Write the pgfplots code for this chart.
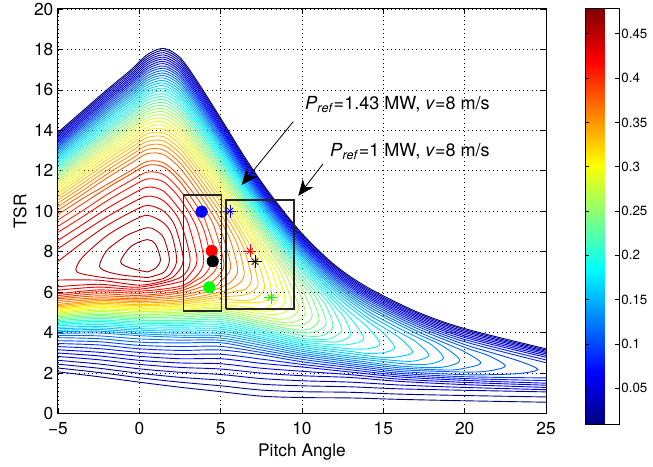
\documentclass[border=0pt]{standalone}
\usepackage{pgfplots}
\pgfplotsset{compat=1.18}
\usepackage{fontspec}
\setmainfont{TeX Gyre Heros}
\usetikzlibrary{arrows.meta}
\pgfplotsset{cline/.style={smooth, line width=0.68pt, no marks}}
\newcommand{\cl}[2]{\addplot[cline, color of colormap={#1 of jet}] coordinates {#2};}
\begin{document}
\begin{tikzpicture}
\begin{axis}[
  name=ax,
  scale only axis, width=366pt, height=303.4pt,
  xmin=-5, xmax=25, ymin=0, ymax=20,
  xtick={-5,0,5,10,15,20,25}, xticklabels={−5,0,5,10,15,20,25},
  ytick={0,2,4,6,8,10,12,14,16,18,20},
  font=\fontsize{13}{15}\selectfont,
  /pgf/number format/assume math mode=true,
  tick align=inside, major tick length=3.7pt,
  grid=major, grid style={black, line width=0.5pt, dash pattern=on 0.6pt off 2.6pt},
  axis line style={line width=0.75pt},
  every tick/.style={black, line width=0.6pt},
  xticklabel style={yshift=-3pt},
  xlabel={Pitch Angle}, ylabel={TSR},
  xlabel style={at={(axis description cs:0.5,-0.0953)}, anchor=center},
  ylabel style={at={(axis description cs:-0.078,0.5)}, anchor=center},
  colormap/jet,
  point meta min=0.0086, point meta max=0.478,
  colorbar,
  colorbar style={
    at={(parent axis.north east)}, anchor=north west, xshift=21pt,
    width=25.5pt, height=312pt,
    ytick={0.05,0.1,0.15,0.2,0.25,0.3,0.35,0.4,0.45},
    yticklabels={0.05,0.1,0.15,0.2,0.25,0.3,0.35,0.4,0.45},
    tick align=inside, major tick length=3pt,
    yticklabel style={xshift=-2pt},
    axis line style={line width=0.75pt},
  },
]
% ---- contour lines ----
% 0.01
\cl{3}{(-5,2.06) (-2.5,1.82) (0,1.55) (2.5,1.30) (5,1.08) (7.5,0.86) (10,0.79) (13,0.77) (16,0.70) (20,0.63) (25,0.56)}
\cl{3}{(-5,13.9) (-3.5,14.95) (-2,16.0) (-0.5,17.0) (0.5,17.75) (1.5,18.05) (2.5,17.6) (3.5,16.5) (5,14.6) (6.5,12.65) (8,10.9) (10,8.9) (12,7.35) (14,6.25) (17,5.05) (20,4.2) (25,3.2)}
% 0.02
\cl{24}{(-5,2.25) (-2.5,2.03) (0,1.77) (2.5,1.55) (5,1.37) (7.5,1.16) (10,1.08) (13,1.05) (16,0.96) (20,0.89) (25,0.82)}
\cl{24}{(-5,13.83) (-3.5,14.87) (-2,15.92) (-0.5,16.91) (0.5,17.65) (1.5,17.95) (2.5,17.5) (3.5,16.4) (5,14.52) (6.5,12.57) (8,10.83) (10,8.83) (12,7.29) (14,6.18) (17,4.99) (20,4.14) (25,3.14)}
% 0.03
\cl{46}{(-5,2.44) (-2.5,2.24) (0,1.99) (2.5,1.79) (5,1.65) (7.5,1.45) (10,1.37) (13,1.32) (16,1.22) (20,1.15) (25,1.07)}
\cl{46}{(-5,13.75) (-3.5,14.79) (-2,15.83) (-0.5,16.81) (0.5,17.55) (1.5,17.84) (2.5,17.39) (3.5,16.30) (5,14.43) (6.5,12.49) (8,10.76) (10,8.76) (12,7.22) (14,6.11) (17,4.92) (20,4.07) (25,3.08)}
% 0.04
\cl{67}{(-5,2.63) (-2.5,2.45) (0,2.21) (2.5,2.04) (5,1.93) (7.5,1.73) (10,1.62) (13,1.55) (16,1.41) (20,1.29) (25,1.18)}
\cl{67}{(-5,13.68) (-3.5,14.71) (-2,15.74) (-0.5,16.72) (0.5,17.45) (1.5,17.73) (2.5,17.28) (3.5,16.2) (5,14.34) (6.5,12.41) (8,10.68) (10,8.69) (12,7.15) (14,6.04) (17,4.85) (20,4.0) (25,3.02)}
% 0.05
\cl{88}{(-5,2.82) (-2.5,2.66) (0,2.43) (2.5,2.28) (5,2.2) (7.5,2.0) (10,1.87) (13,1.78) (16,1.59) (20,1.43) (25,1.29)}
\cl{88}{(-5,13.6) (-3.5,14.62) (-2,15.65) (-0.5,16.62) (0.5,17.35) (1.5,17.62) (2.5,17.17) (3.5,16.1) (5,14.24) (6.5,12.33) (8,10.6) (10,8.62) (12,7.07) (14,5.97) (17,4.78) (20,3.92) (25,2.95)}
% 0.06
\cl{110}{(-5,2.99) (-2.5,2.85) (0,2.63) (2.5,2.5) (5,2.46) (7.5,2.24) (10,2.09) (13,1.92) (16,1.7) (20,1.54) (25,1.4)}
\cl{110}{(-5,13.52) (-3.5,14.54) (-2,15.56) (-0.5,16.53) (0.5,17.25) (1.5,17.52) (2.5,17.06) (3.5,15.99) (5,14.15) (6.5,12.25) (8,10.52) (10,8.55) (12,7.0) (14,5.89) (17,4.7) (20,3.84) (25,2.87)}
% 0.07
\cl{131}{(-5,3.15) (-2.5,3.03) (0,2.83) (2.5,2.71) (5,2.71) (7.5,2.48) (10,2.3) (13,2.05) (16,1.81) (20,1.64) (25,1.5)}
\cl{131}{(-5,13.44) (-3.5,14.46) (-2,15.47) (-0.5,16.43) (0.5,17.14) (1.5,17.41) (2.5,16.95) (3.5,15.88) (5,14.05) (6.5,12.16) (8,10.44) (10,8.47) (12,6.92) (14,5.81) (17,4.62) (20,3.76) (25,2.78)}
% 0.08
\cl{152}{(-5,3.31) (-2.5,3.21) (0,3.02) (2.5,2.92) (5,2.93) (7.5,2.69) (10,2.43) (13,2.16) (16,1.9) (20,1.73) (25,1.63)}
\cl{152}{(-5,13.36) (-3.5,14.37) (-2,15.38) (-0.5,16.34) (0.5,17.04) (1.5,17.3) (2.5,16.84) (3.5,15.78) (5,13.96) (6.5,12.08) (8,10.36) (10,8.39) (12,6.84) (14,5.73) (17,4.53) (20,3.66) (25,2.65)}
% 0.09
\cl{173}{(-5,3.46) (-2.5,3.39) (0,3.2) (2.5,3.12) (5,3.14) (7.5,2.9) (10,2.56) (13,2.27) (16,1.99) (20,1.82) (25,1.76)}
\cl{173}{(-5,13.28) (-3.5,14.28) (-2,15.28) (-0.5,16.24) (0.5,16.93) (1.5,17.18) (2.5,16.72) (3.5,15.67) (5,13.87) (6.5,11.99) (8,10.28) (10,8.31) (12,6.75) (14,5.64) (17,4.44) (20,3.55) (25,2.51)}
% 0.10
\cl{195}{(-5,3.6) (-2.5,3.55) (0,3.37) (2.5,3.31) (5,3.32) (7.5,3.02) (10,2.68) (13,2.37) (16,2.08) (20,1.92) (22,1.93) (23.5,1.99) (24.5,2.18) (23.5,2.55) (22,2.93) (20,3.41) (17,4.34) (14,5.54) (12,6.66) (10,8.23) (8,10.2) (6.5,11.9) (5,13.77) (3.5,15.56) (2.5,16.61) (1.5,17.07) (0.5,16.82) (-0.5,16.13) (-2,15.19) (-3.5,14.2) (-5,13.2)}
% 0.11
\cl{216}{(-5,3.75) (-2.5,3.70) (0,3.53) (2.5,3.49) (5,3.50) (7.5,3.14) (10,2.79) (13,2.46) (16,2.17) (20,2.05) (21.5,2.11) (22.5,2.35) (21.5,2.85) (20,3.27) (17,4.23) (14,5.44) (12,6.57) (10,8.14) (8,10.11) (6.5,11.81) (5,13.66) (3.5,15.45) (2.5,16.49) (1.5,16.95) (0.5,16.7) (-0.5,16.02) (-2,15.09) (-3.5,14.11) (-5,13.12)}
% 0.12
\cl{237}{(-5,3.86) (-2.5,3.84) (0,3.69) (2.5,3.63) (5,3.62) (7.5,3.26) (10,2.89) (13,2.56) (16,2.26) (19,2.15) (20,2.24) (21,2.5) (20,3.05) (19,3.41) (17,4.1) (14,5.33) (12,6.47) (10,8.05) (8,10.02) (6.5,11.72) (5,13.56) (3.5,15.34) (2.5,16.37) (1.5,16.83) (0.5,16.59) (-0.5,15.92) (-2,15.0) (-3.5,14.02) (-5,13.04)}
% 0.13
\cl{259}{(-5,3.96) (-2.5,3.98) (0,3.85) (2.5,3.77) (5,3.73) (7.5,3.38) (10,2.98) (13,2.65) (16,2.35) (18.5,2.28) (19.7,2.63) (18.5,3.41) (17,3.97) (14,5.22) (12,6.37) (10,7.95) (8,9.93) (6.5,11.62) (5,13.46) (3.5,15.22) (2.5,16.25) (1.5,16.71) (0.5,16.48) (-0.5,15.81) (-2,14.9) (-3.5,13.92) (-5,12.95)}
% 0.14
\cl{280}{(-5,4.04) (-2.5,4.07) (0,3.94) (2.5,3.87) (5,3.85) (7.5,3.49) (10,3.08) (13,2.75) (16,2.48) (17,2.42) (18,2.47) (18.7,2.75) (18,3.38) (17,3.8) (16,4.2) (14,5.08) (12,6.26) (10,7.86) (8,9.83) (6.5,11.52) (5,13.35) (3.5,15.1) (2.5,16.12) (1.5,16.59) (0.5,16.37) (-0.5,15.71) (-2,14.8) (-3.5,13.83) (-5,12.86)}
% 0.15
\cl{301}{(-5,4.11) (-2.5,4.15) (0,4.03) (2.5,3.97) (5,3.96) (7.5,3.59) (10,3.17) (13,2.84) (16,2.6) (17,2.61) (17.8,2.88) (17,3.55) (16,4.01) (14,4.94) (12,6.15) (10,7.76) (8,9.73) (6.5,11.41) (5,13.24) (3.5,14.97) (2.5,15.99) (1.5,16.46) (0.5,16.25) (-0.5,15.6) (-2,14.69) (-3.5,13.73) (-5,12.77)}
% 0.16
\cl{322}{(-5,4.19) (-2.5,4.23) (0,4.12) (2.5,4.07) (5,4.07) (7.5,3.69) (10,3.27) (13,2.96) (15,2.77) (16,2.82) (16.8,3.04) (16,3.74) (15,4.26) (14,4.76) (12,6.02) (10,7.65) (8,9.63) (6.5,11.31) (5,13.12) (3.5,14.85) (2.5,15.86) (1.5,16.34) (0.5,16.13) (-0.5,15.49) (-2,14.59) (-3.5,13.63) (-5,12.68)}
% 0.17
\cl{344}{(-5,4.26) (-2.5,4.31) (0,4.2) (2.5,4.17) (5,4.17) (7.5,3.78) (10,3.36) (13,3.07) (14,2.97) (15,3.01) (15.7,3.26) (15,3.98) (14,4.58) (12,5.88) (10,7.54) (8,9.52) (6.5,11.2) (5,13.0) (3.5,14.72) (2.5,15.73) (1.5,16.21) (0.5,16.01) (-0.5,15.37) (-2,14.48) (-3.5,13.53) (-5,12.59)}
% 0.18
\cl{365}{(-5,4.34) (-2.5,4.4) (0,4.29) (2.5,4.27) (5,4.27) (7.5,3.89) (10,3.45) (12,3.27) (13,3.2) (14,3.2) (14.8,3.45) (14,4.29) (13,4.97) (12,5.71) (10,7.42) (8,9.41) (6.5,11.09) (5,12.88) (3.5,14.59) (2.5,15.6) (1.5,16.08) (0.5,15.89) (-0.5,15.25) (-2,14.37) (-3.5,13.43) (-5,12.5)}
% 0.19
\cl{386}{(-5,4.41) (-2.5,4.48) (0,4.38) (2.5,4.36) (5,4.37) (7.5,3.99) (10,3.54) (12,3.4) (13,3.43) (13.8,3.71) (13,4.69) (12,5.54) (10,7.29) (8,9.3) (6.5,10.97) (5,12.76) (3.5,14.46) (2.5,15.46) (1.5,15.94) (0.5,15.76) (-0.5,15.13) (-2,14.26) (-3.5,13.32) (-5,12.4)}
% 0.20
\cl{408}{(-5,4.48) (-2.5,4.55) (0,4.46) (2.5,4.44) (5,4.46) (7.5,4.08) (10,3.63) (11.5,3.55) (12,3.53) (12.6,3.65) (13,3.95) (12.6,4.74) (12,5.31) (11.5,5.81) (10,7.15) (8,9.18) (6.5,10.86) (5,12.64) (3.5,14.33) (2.5,15.32) (1.5,15.8) (0.5,15.63) (-0.5,15.01) (-2,14.14) (-3.5,13.22) (-5,12.3)}
% 0.21
\cl{429}{(-5,4.54) (-2.5,4.62) (0,4.53) (2.5,4.52) (5,4.55) (7.5,4.17) (10,3.72) (11.5,3.67) (12,3.81) (12.45,4.14) (12,5.0) (11.5,5.59) (10,7.01) (8,9.05) (6.5,10.74) (5,12.51) (3.5,14.19) (2.5,15.18) (1.5,15.66) (0.5,15.5) (-0.5,14.89) (-2,14.02) (-3.5,13.11) (-5,12.2)}
% 0.22
\cl{451}{(-5,4.6) (-2.5,4.7) (0,4.61) (2.5,4.6) (5,4.65) (7.5,4.27) (10,3.86) (11,3.82) (11.5,3.94) (11.9,4.34) (11.5,5.29) (11,5.84) (10,6.83) (8,8.92) (6.5,10.61) (5,12.38) (3.5,14.05) (2.5,15.03) (1.5,15.52) (0.5,15.36) (-0.5,14.77) (-2,13.91) (-3.5,13.0) (-5,12.1)}
% 0.23
\cl{472}{(-5,4.66) (-2.5,4.77) (0,4.68) (2.5,4.68) (5,4.74) (7.5,4.36) (10,4.0) (11,4.1) (11.48,4.5) (11,5.55) (10,6.65) (8,8.78) (6.5,10.47) (5,12.24) (3.5,13.9) (2.5,14.88) (1.5,15.37) (0.5,15.22) (-0.5,14.64) (-2,13.79) (-3.5,12.88) (-5,11.99)}
% 0.24
\cl{493}{(-5,4.73) (-2.5,4.84) (0,4.75) (2.5,4.77) (5,4.84) (7.5,4.46) (9,4.22) (10,4.12) (10.6,4.23) (11.05,4.68) (10.6,5.73) (10,6.44) (9,7.54) (8,8.63) (6.5,10.33) (5,12.09) (3.5,13.75) (2.5,14.73) (1.5,15.22) (0.5,15.08) (-0.5,14.5) (-2,13.67) (-3.5,12.77) (-5,11.88)}
% 0.25
\cl{514}{(-5,4.79) (-2.5,4.9) (0,4.82) (2.5,4.85) (5,4.93) (7.5,4.55) (9,4.37) (10,4.36) (10.63,4.85) (10,6.16) (9,7.36) (8,8.47) (6.5,10.19) (5,11.94) (3.5,13.59) (2.5,14.57) (1.5,15.07) (0.5,14.94) (-0.5,14.36) (-2,13.54) (-3.5,12.65) (-5,11.77)}
% 0.26
\cl{536}{(-5,4.85) (-2.5,4.97) (0,4.9) (2.5,4.93) (5,5.02) (7.5,4.67) (9,4.49) (9.7,4.58) (10.2,5.0) (9.7,6.24) (9,7.13) (8,8.29) (6.5,10.03) (5,11.79) (3.5,13.43) (2.5,14.41) (1.5,14.92) (0.5,14.79) (-0.5,14.23) (-2,13.41) (-3.5,12.53) (-5,11.65)}
% 0.27
\cl{557}{(-5,4.91) (-2.5,5.04) (0,4.97) (2.5,5.01) (5,5.11) (7.5,4.79) (9,4.68) (9.8,5.2) (9,6.87) (8,8.1) (6.5,9.86) (5,11.63) (3.5,13.26) (2.5,14.24) (1.5,14.76) (0.5,14.64) (-0.5,14.09) (-2,13.27) (-3.5,12.4) (-5,11.53)}
% 0.28
\cl{578}{(-5,4.97) (-2.5,5.11) (0,5.05) (2.5,5.08) (5,5.2) (7.5,4.93) (8.7,4.94) (9.37,5.42) (8.7,6.95) (8,7.85) (6.5,9.68) (5,11.46) (3.5,13.09) (2.5,14.06) (1.5,14.59) (0.5,14.49) (-0.5,13.95) (-2,13.13) (-3.5,12.27) (-5,11.41)}
% 0.29
\cl{600}{(-5,5.02) (-2.5,5.17) (0,5.12) (2.5,5.15) (5,5.28) (7.5,5.06) (8.5,5.16) (8.96,5.62) (8.5,6.88) (8,7.6) (6.5,9.49) (5,11.28) (3.5,12.91) (2.5,13.88) (1.5,14.41) (0.5,14.34) (-0.5,13.8) (-2,12.99) (-3.5,12.14) (-5,11.28)}
% 0.30
\cl{620}{(-5,5.09) (-2.5,5.24) (0,5.19) (2.5,5.24) (5,5.39) (7.5,5.19) (8.1,5.35) (8.55,5.82) (8.1,7.12) (7.5,7.98) (6.5,9.27) (5,11.09) (3.5,12.72) (2.5,13.69) (1.5,14.24) (0.5,14.17) (-0.5,13.64) (-2,12.85) (-3.5,12.0) (-5,11.15)}
% 0.31
\cl{642}{(-5,5.15) (-2.5,5.31) (0,5.26) (2.5,5.32) (5,5.5) (7.5,5.51) (8.12,6.04) (7.5,7.65) (6.5,9.04) (5,10.89) (3.5,12.53) (2.5,13.5) (1.5,14.06) (0.5,14.0) (-0.5,13.48) (-2,12.7) (-3.5,11.85) (-5,11.02)}
% 0.32
\cl{663}{(-5,5.21) (-2.5,5.38) (0,5.33) (2.5,5.4) (5,5.63) (6.5,5.58) (7.2,5.73) (7.7,6.25) (7.2,7.7) (6.5,8.74) (5,10.67) (3.5,12.32) (2.5,13.3) (1.5,13.87) (0.5,13.83) (-0.5,13.31) (-2,12.54) (-3.5,11.7) (-5,10.87)}
% 0.33
\cl{685}{(-5,5.27) (-2.5,5.44) (0,5.39) (2.5,5.47) (5,5.76) (6.5,5.88) (7.3,6.45) (6.5,8.44) (5,10.44) (3.5,12.11) (2.5,13.09) (1.5,13.68) (0.5,13.65) (-0.5,13.14) (-2,12.38) (-3.5,11.54) (-5,10.72)}
% 0.34
\cl{706}{(-5,5.33) (-2.5,5.51) (0,5.47) (2.5,5.55) (5,5.88) (6,6.06) (6.5,6.13) (6.9,6.65) (6.5,7.98) (6,8.85) (5,10.16) (3.5,11.87) (2.5,12.87) (1.5,13.47) (0.5,13.46) (-0.5,12.96) (-2,12.2) (-3.5,11.37) (-5,10.57)}
% 0.35
\cl{727}{(-5,5.39) (-2.5,5.58) (0,5.54) (2.5,5.63) (5,6.01) (6,6.35) (6.45,6.9) (6,8.4) (5,9.87) (3.5,11.63) (2.5,12.64) (1.5,13.26) (0.5,13.26) (-0.5,12.78) (-2,12.02) (-3.5,11.2) (-5,10.41)}
% 0.36
\cl{748}{(-5,5.49) (-2.5,5.65) (0,5.61) (2.5,5.74) (4.5,6.09) (5,6.24) (5.6,6.49) (6.05,7.08) (5.6,8.55) (5,9.53) (4.5,10.2) (3.5,11.35) (2.5,12.39) (1.5,13.03) (0.5,13.06) (-0.5,12.58) (-2,11.83) (-3.5,11.02) (-5,10.23)}
% 0.37
\cl{770}{(-5,5.59) (-2.5,5.72) (0,5.68) (2.5,5.84) (4.5,6.24) (5,6.54) (5.62,7.25) (5,9.09) (4.5,9.84) (3.5,11.06) (2.5,12.13) (1.5,12.8) (0.5,12.85) (-0.5,12.38) (-2,11.64) (-3.5,10.83) (-5,10.05)}
% 0.38
\cl{791}{(-5,5.67) (-2.5,5.82) (0,5.76) (2.5,5.96) (4,6.32) (4.6,6.6) (5.2,7.35) (4.6,9.24) (4,10.11) (3.5,10.71) (2.5,11.71) (1.5,12.39) (0.5,12.47) (-0.5,12.02) (-2,11.32) (-3.5,10.62) (-5,9.84)}
% 0.39
\cl{812}{(-5,5.74) (-2.5,5.92) (0,5.84) (2.5,6.07) (4,6.59) (4.8,7.45) (4,9.65) (3.5,10.3) (2.5,11.46) (1.5,12.19) (0.5,12.28) (-0.5,11.85) (-2,11.14) (-3.5,10.36) (-5,9.57)}
% 0.40
\cl{835}{(-5,5.83) (-2.5,6.02) (0,5.95) (2.5,6.18) (3.5,6.59) (4,6.85) (4.4,7.5) (4,9.0) (3.5,9.83) (2.5,11.04) (1.5,11.81) (0.5,11.94) (-0.5,11.53) (-2,10.82) (-3.5,10.02) (-5,9.26)}
% 0.41
\cl{855}{(-5,5.92) (-2.5,6.11) (0,6.05) (2.5,6.29) (3.5,6.79) (3.96,7.55) (3.5,9.23) (2.5,10.62) (1.5,11.45) (0.5,11.6) (-0.5,11.21) (-2,10.51) (-3.5,9.72) (-5,8.96)}
% 0.42
\cl{877}{(-5,6.1) (-2.5,6.25) (0,6.15) (2.5,6.51) (3,6.79) (3.55,7.58) (3,9.4) (2.5,10.06) (1.5,10.99) (0.5,11.19) (-0.5,10.82) (-2,10.13) (-3.5,9.34) (-5,8.56)}
% 0.43
\cl{898}{(-5,6.27) (-2.5,6.39) (0,6.25) (2.5,6.72) (3.12,7.6) (2.5,9.49) (1.5,10.51) (0.5,10.75) (-0.5,10.4) (-2,9.72) (-3.5,8.95) (-5,8.15)}
% 0.44
\cl{920}{(-5,6.6) (-2.5,6.59) (0,6.35) (1.5,6.56) (2.2,6.84) (2.7,7.6) (2.2,9.25) (1.5,10.0) (0.5,10.29) (-0.5,9.96) (-2,9.29) (-3.5,8.45) (-5,7.52)}
% 0.45
\cl{940}{(0.5,6.52) (-0.5,6.6) (-2,6.7) (-3.5,6.9) (-3.9,7.1) (-3.5,7.72) (-2,8.79) (-0.5,9.5) (0.5,9.8) (1.5,9.42) (2,8.82) (2.3,7.6) (2,7.0) (1.5,6.68) (0.5,6.52)}
% 0.46
\cl{962}{(0.5,6.72) (-1,6.84) (-2,7.02) (-2.45,7.3) (-2,8.06) (-1,8.69) (-0.5,8.91) (0.5,9.19) (1,9.06) (1.5,8.68) (1.85,7.6) (1.5,6.98) (0.5,6.72)}
% 0.47
\cl{983}{(0.5,7.0) (-0.5,7.18) (-1.15,7.5) (-0.5,8.27) (0.5,8.6) (1,8.36) (1.3,7.6) (1,7.19) (0.5,7.0)}
% ---- boxes ----
\addplot[black!85, line width=1pt] coordinates {(2.7,5.07) (5.06,5.07) (5.06,10.81) (2.7,10.81) (2.7,5.07)};
\addplot[black!85, line width=1pt] coordinates {(5.33,5.17) (9.5,5.17) (9.5,10.56) (5.33,10.56) (5.33,5.17)};
% ---- operating points ----
\addplot[only marks, mark=*, mark size=4.3pt, blue] coordinates {(3.83,9.98)};
\addplot[only marks, mark=*, mark size=4.3pt, red] coordinates {(4.45,8.04)};
\addplot[only marks, mark=*, mark size=4.3pt, black] coordinates {(4.51,7.53)};
\addplot[only marks, mark=*, mark size=4.3pt, green] coordinates {(4.30,6.24)};
\addplot[only marks, mark=+, mark size=4.9pt, blue, mark options={line width=0.6pt}] coordinates {(5.57,10.01)};
\addplot[only marks, mark=x, mark size=3.45pt, blue, mark options={line width=0.6pt}] coordinates {(5.57,10.01)};
\addplot[only marks, mark=+, mark size=4.9pt, red, mark options={line width=0.6pt}] coordinates {(6.80,8.04)};
\addplot[only marks, mark=x, mark size=3.45pt, red, mark options={line width=0.6pt}] coordinates {(6.80,8.04)};
\addplot[only marks, mark=+, mark size=4.9pt, black, mark options={line width=0.6pt}] coordinates {(7.11,7.51)};
\addplot[only marks, mark=x, mark size=3.45pt, black, mark options={line width=0.6pt}] coordinates {(7.11,7.51)};
\addplot[only marks, mark=+, mark size=4.9pt, green, mark options={line width=0.6pt}] coordinates {(8.09,5.73)};
\addplot[only marks, mark=x, mark size=3.45pt, green, mark options={line width=0.6pt}] coordinates {(8.09,5.73)};
% ---- annotations ----
\draw[-{Stealth[length=12pt, width=10pt, inset=3.5pt]}, line width=0.6pt] (axis cs:9.46,14.43) -- (axis cs:6.29,11.30);
\draw[-{Stealth[length=12pt, width=10pt, inset=3.5pt]}, line width=0.6pt] (axis cs:11.29,12.34) -- (axis cs:9.77,10.76);
\node[anchor=base west, inner sep=0pt, font=\fontsize{13.5}{15}\selectfont] at (axis cs:10.18,15.01) {\textit{P}\textsubscript{\textit{ref}}=1.43 MW, \textit{v}=8 m/s};
\node[anchor=base west, inner sep=0pt, font=\fontsize{13.5}{15}\selectfont] at (axis cs:11.72,12.70) {\textit{P}\textsubscript{\textit{ref}}=1 MW, \textit{v}=8 m/s};
\end{axis}
\pgfresetboundingbox
\path[use as bounding box] ([xshift=-43.5pt,yshift=-40.1pt]ax.south west) rectangle ([xshift=80.25pt,yshift=6.75pt]ax.north east);
\end{tikzpicture}
\end{document}
